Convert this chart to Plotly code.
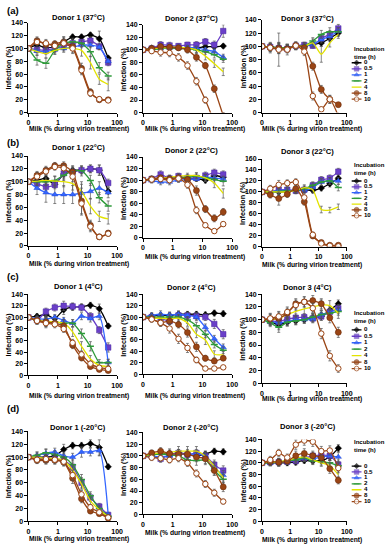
import plotly.graph_objects as go

W, H = 391, 550
FONT = "Liberation Sans"

# ---------------- data ----------------
milk_conc = [0, 0.195, 0.39, 0.78, 1.56, 3.125, 6.25, 12.5, 25, 50]   # % milk during virion treatment
zero_plot_pos = 0.1                                                      # where "0" sits on the log axis
incubation_h = ["0", "0.5", "1", "2", "4", "8", "10"]
x_tick_vals = [0.1, 1, 10, 100]
x_tick_text = ["0", "1", "10", "100"]
panel_letters = ["(a)", "(b)", "(c)", "(d)"]
temps = ["37°C", "22°C", "4°C", "-20°C"]

# Infection (%) ; one list per incubation time (0, 0.5, 1, 2, 4, 8, 10 h)
d1_37 = [[100, 105, 101, 103, 110, 118, 118, 121, 115, 85],
         [100, 98, 97, 100, 103, 108, 110, 112, 103, 78],
         [100, 96, 95, 98, 100, 102, 105, 105, 102, 80],
         [100, 82, 77, 97, 108, 110, 108, 95, 70, 57],
         [100, 95, 92, 97, 100, 100, 97, 78, 52, 44],
         [100, 112, 106, 107, 110, 103, 69, 32, 20, 20],
         [100, 110, 108, 104, 108, 100, 66, 30, 21, 19]]
d2_37 = [[100, 103, 105, 105, 104, 103, 103, 105, 105, 106],
         [100, 102, 108, 107, 106, 108, 108, 113, 108, 130],
         [100, 101, 102, 103, 103, 104, 103, 100, 97, 88],
         [100, 100, 102, 103, 102, 102, 100, 97, 92, 85],
         [100, 102, 103, 104, 104, 103, 100, 90, 78, 65],
         [100, 102, 105, 104, 103, 100, 88, 75, 38, -5],
         [100, 98, 96, 95, 88, 75, 50, 20, -15, -50]]
d3_37 = [[100, 99, 98, 98, 100, 100, 103, 105, 112, 120],
         [100, 99, 97, 96, 101, 102, 101, 112, 118, 127],
         [100, 99, 97, 97, 100, 101, 103, 110, 115, 123],
         [100, 99, 98, 97, 100, 101, 108, 118, 122, 122],
         [100, 98, 97, 97, 100, 100, 105, 88, 105, 118],
         [100, 98, 97, 96, 101, 98, 70, 35, 20, 12],
         [100, 98, 95, 95, 101, 92, 25, 5, 20, -5]]
d1_22 = [[100, 102, 105, 96, 112, 118, 118, 120, 118, 85],
         [100, 97, 92, 95, 113, 115, 118, 120, 118, 98],
         [100, 90, 83, 80, 80, 80, 82, 85, 90, 83],
         [100, 100, 100, 102, 110, 117, 117, 102, 75, 62],
         [100, 101, 102, 101, 100, 97, 85, 62, 46, 42],
         [100, 110, 118, 125, 125, 115, 70, 32, 14, 20],
         [100, 108, 116, 123, 121, 108, 66, 30, 14, 19]]
d2_22 = [[100, 102, 104, 101, 104, 103, 103, 100, 108, 105],
         [100, 102, 110, 103, 107, 104, 104, 108, 113, 110],
         [100, 99, 97, 97, 100, 101, 102, 105, 104, 102],
         [100, 101, 102, 103, 104, 105, 107, 104, 101, 98],
         [100, 102, 104, 105, 107, 108, 108, 104, 95, 77],
         [100, 102, 104, 102, 104, 101, 82, 50, 34, 45],
         [100, 101, 102, 100, 103, 92, 48, 22, 12, 24]]
d3_22 = [[100, 100, 100, 101, 102, 104, 103, 107, 115, 125],
         [100, 100, 104, 104, 102, 104, 112, 122, 125, 137],
         [100, 100, 103, 103, 103, 103, 108, 118, 120, 120],
         [100, 100, 101, 102, 103, 106, 112, 118, 120, 108],
         [100, 100, 100, 100, 103, 108, 104, 68, 67, 73],
         [100, 95, 88, 96, 106, 82, 20, 8, 3, 3],
         [100, 106, 113, 116, 118, 90, 22, 6, 2, 1]]
d1_4 = [[100, 102, 105, 98, 113, 118, 118, 121, 115, 85],
        [100, 95, 110, 117, 120, 119, 117, 102, 78, 48],
        [100, 98, 97, 100, 95, 90, 102, 98, 102, 22],
        [100, 95, 92, 92, 90, 90, 72, 50, 22, 22],
        [100, 95, 93, 92, 90, 75, 50, 28, 17, 15],
        [100, 95, 92, 90, 85, 52, 30, 15, 10, 8],
        [100, 94, 90, 88, 80, 56, 36, 20, 13, 11]]
d2_4 = [[100, 102, 103, 103, 105, 105, 105, 104, 107, 106],
        [100, 100, 98, 93, 103, 103, 102, 100, 88, 70],
        [100, 103, 105, 104, 105, 103, 100, 82, 62, 47],
        [100, 100, 100, 100, 100, 95, 85, 70, 52, 42],
        [100, 98, 98, 97, 98, 90, 70, 60, 35, 34],
        [100, 97, 90, 93, 87, 73, 48, 28, 23, 28],
        [100, 96, 90, 80, 62, 46, 25, 10, 10, 12]]
d3_4 = [[100, 97, 92, 96, 98, 100, 103, 105, 115, 125],
        [100, 98, 97, 101, 103, 104, 102, 105, 112, 118],
        [100, 97, 95, 97, 100, 100, 101, 108, 112, 116],
        [100, 95, 88, 96, 98, 100, 104, 108, 110, 113],
        [100, 100, 102, 108, 113, 117, 120, 123, 122, 110],
        [100, 101, 102, 110, 125, 128, 130, 125, 103, 80],
        [100, 102, 105, 112, 123, 128, 118, 78, 43, 23]]
d1_m20 = [[100, 100, 100, 102, 112, 118, 118, 121, 115, 85],
          [100, 98, 97, 97, 95, 85, 60, 37, 23, 10],
          [100, 103, 106, 108, 102, 100, 108, 108, 110, 10],
          [100, 103, 107, 104, 100, 88, 65, 40, 20, 8],
          [100, 100, 98, 98, 95, 80, 58, 32, 18, 7],
          [100, 95, 95, 95, 92, 67, 35, 16, 12, 5],
          [100, 96, 97, 96, 93, 72, 42, 22, 14, 6]]
d2_m20 = [[100, 102, 104, 103, 105, 103, 100, 103, 108, 107],
          [100, 100, 95, 102, 105, 102, 105, 100, 85, 75],
          [100, 100, 98, 100, 102, 103, 103, 100, 80, 67],
          [100, 102, 103, 102, 100, 93, 92, 93, 75, 60],
          [100, 103, 105, 106, 108, 108, 108, 100, 82, 63],
          [100, 105, 108, 104, 103, 103, 98, 95, 75, 47],
          [100, 97, 96, 93, 96, 88, 70, 52, 37, 22]]
d3_m20 = [[100, 100, 100, 100, 101, 104, 103, 104, 110, 125],
          [100, 101, 101, 102, 103, 108, 112, 113, 112, 97],
          [100, 100, 101, 104, 106, 108, 107, 110, 112, 110],
          [100, 100, 101, 103, 105, 108, 103, 102, 100, 95],
          [100, 101, 102, 104, 108, 110, 105, 100, 95, 80],
          [100, 102, 101, 103, 112, 116, 112, 109, 90, 70],
          [100, 105, 117, 109, 131, 138, 136, 120, 121, 91]]

# error bars (SD, %)
e1_37 = [[0, 4, 5, 4, 8, 4, 4, 4, 12, 3], [0, 4, 4, 5, 5, 5, 4, 6, 5, 5], [0, 3, 4, 4, 4, 4, 4, 4, 4, 4],
         [0, 8, 8, 6, 8, 6, 5, 8, 8, 6], [0, 6, 7, 6, 6, 6, 9, 10, 8, 10], [0, 6, 6, 5, 8, 6, 8, 5, 3, 3],
         [0, 6, 6, 5, 6, 8, 7, 5, 3, 3]]
e2_37 = [[0, 3, 4, 4, 4, 3, 3, 4, 4, 3], [0, 4, 5, 5, 4, 4, 5, 5, 6, 10], [0, 3, 3, 4, 3, 3, 3, 4, 4, 5],
         [0, 3, 4, 4, 3, 4, 4, 4, 5, 5], [0, 4, 4, 4, 4, 4, 5, 6, 6, 6], [0, 4, 5, 5, 4, 5, 6, 5, 6, 5],
         [0, 4, 6, 6, 6, 6, 6, 5, 5, 5]]
e3_37 = [[0, 4, 6, 5, 5, 4, 4, 5, 5, 5], [0, 5, 6, 5, 5, 4, 4, 5, 6, 6], [0, 5, 6, 5, 4, 4, 4, 5, 5, 5],
         [0, 6, 8, 6, 5, 5, 5, 6, 6, 6], [0, 6, 8, 6, 5, 5, 6, 12, 6, 6], [0, 6, 8, 6, 5, 5, 6, 6, 6, 3],
         [0, 8, 25, 8, 6, 6, 6, 3, 6, 3]]
e1_22 = [[0, 5, 6, 5, 8, 5, 5, 6, 8, 4], [0, 6, 6, 6, 7, 6, 6, 6, 8, 6], [0, 10, 15, 14, 14, 14, 14, 12, 10, 8],
         [0, 6, 6, 6, 8, 8, 8, 8, 8, 8], [0, 6, 8, 8, 8, 10, 15, 12, 8, 8], [0, 6, 6, 5, 6, 8, 20, 8, 4, 4],
         [0, 6, 6, 5, 6, 8, 18, 8, 4, 4]]
e2_22 = [[0, 4, 5, 5, 4, 4, 5, 5, 5, 5], [0, 5, 6, 5, 5, 5, 5, 6, 6, 6], [0, 4, 5, 5, 4, 4, 4, 5, 5, 5],
         [0, 4, 4, 4, 4, 4, 5, 6, 6, 8], [0, 4, 4, 4, 4, 4, 5, 6, 8, 8], [0, 4, 5, 5, 5, 6, 8, 6, 6, 6],
         [0, 4, 5, 5, 5, 6, 6, 4, 3, 4]]
e3_22 = [[0, 5, 6, 5, 5, 4, 4, 5, 6, 6], [0, 5, 6, 5, 5, 5, 6, 6, 6, 6], [0, 5, 6, 5, 5, 5, 6, 6, 6, 6],
         [0, 5, 6, 5, 5, 5, 6, 6, 6, 6], [0, 5, 6, 5, 5, 5, 6, 6, 5, 5], [0, 6, 12, 6, 6, 6, 5, 3, 2, 2],
         [0, 6, 8, 6, 6, 8, 5, 3, 2, 2]]
e1_4 = [[0, 4, 6, 5, 8, 6, 5, 5, 8, 4], [0, 6, 6, 6, 8, 6, 6, 6, 6, 8], [0, 6, 6, 5, 5, 6, 6, 6, 6, 6],
        [0, 6, 8, 6, 6, 6, 8, 8, 5, 5], [0, 6, 8, 6, 6, 8, 8, 6, 5, 5], [0, 6, 8, 6, 6, 6, 5, 4, 3, 3],
        [0, 6, 8, 6, 6, 6, 5, 4, 3, 3]]
e2_4 = [[0, 4, 5, 5, 6, 5, 5, 5, 5, 5], [0, 5, 6, 6, 6, 6, 6, 6, 8, 8], [0, 5, 6, 5, 5, 5, 6, 6, 6, 6],
        [0, 5, 6, 5, 5, 6, 6, 6, 6, 6], [0, 5, 6, 5, 6, 6, 6, 8, 6, 6], [0, 5, 6, 6, 6, 8, 8, 5, 4, 4],
        [0, 5, 6, 8, 8, 8, 5, 3, 3, 3]]
e3_4 = [[0, 6, 8, 6, 6, 5, 6, 6, 6, 6], [0, 6, 8, 6, 6, 5, 6, 6, 6, 6], [0, 6, 8, 6, 6, 5, 6, 6, 6, 6],
        [0, 6, 8, 6, 6, 6, 6, 6, 6, 6], [0, 8, 10, 8, 8, 8, 8, 8, 8, 8], [0, 8, 8, 8, 8, 8, 8, 8, 8, 8],
        [0, 8, 8, 8, 8, 8, 8, 8, 8, 6]]
e1_m20 = [[0, 4, 6, 5, 8, 5, 5, 6, 12, 4], [0, 5, 6, 5, 6, 6, 8, 6, 5, 4], [0, 5, 6, 6, 6, 6, 8, 6, 8, 4],
          [0, 5, 6, 6, 6, 8, 8, 6, 5, 3], [0, 5, 6, 6, 6, 8, 8, 6, 5, 3], [0, 5, 6, 6, 6, 8, 6, 4, 3, 3],
          [0, 5, 6, 6, 6, 8, 6, 4, 3, 3]]
e2_m20 = [[0, 4, 5, 5, 5, 5, 5, 5, 5, 5], [0, 5, 6, 5, 6, 6, 6, 6, 8, 8], [0, 5, 6, 5, 6, 6, 6, 6, 8, 8],
          [0, 5, 6, 6, 6, 8, 8, 8, 8, 8], [0, 5, 6, 6, 8, 8, 8, 8, 8, 8], [0, 5, 6, 6, 8, 8, 8, 8, 8, 8],
          [0, 5, 5, 5, 6, 6, 6, 6, 6, 4]]
e3_m20 = [[0, 5, 6, 5, 5, 5, 5, 5, 6, 6], [0, 5, 6, 5, 5, 5, 6, 6, 8, 8], [0, 5, 6, 5, 5, 6, 6, 6, 8, 8],
          [0, 5, 6, 5, 5, 6, 6, 6, 6, 6], [0, 5, 6, 5, 5, 6, 6, 6, 6, 6], [0, 6, 6, 6, 8, 8, 8, 8, 8, 6],
          [0, 6, 6, 6, 8, 8, 8, 8, 8, 8]]

panel_data = [[(d1_37, e1_37), (d2_37, e2_37), (d3_37, e3_37)],
              [(d1_22, e1_22), (d2_22, e2_22), (d3_22, e3_22)],
              [(d1_4, e1_4), (d2_4, e2_4), (d3_4, e3_4)],
              [(d1_m20, e1_m20), (d2_m20, e2_m20), (d3_m20, e3_m20)]]
y_max = [[140, 140, 140], [140, 140, 160], [140, 140, 140], [140, 140, 140]]

# ---------------- styles ----------------
colors = ["#000000", "#6A3FC9", "#3366FF", "#2E9A3A", "#E3E300", "#9A4515", "#9A4515"]
symbols = ["diamond", "square", "triangle-up", "line-ew", None, "circle", "circle"]
msizes = [5, 5.5, 5.5, 5, 0, 6, 5.5]
mfill = ["#000000", "#6A3FC9", "#3366FF", "#2E9A3A", "#E3E300", "#9A4515", "#FFFFFF"]
mline = ["#000000", "#4A2A9A", "#2244CC", "#2E9A3A", "#E3E300", "#6A2A08", "#9A4515"]
mlw = [0.5, 0.5, 0.5, 1.5, 0, 0.6, 1.0]

# pixel layout
col_x = [(27, 117.5), (144, 235), (265.5, 352)]
plot_y = {(0, 0): (19, 110), (0, 1): (21, 110), (0, 2): (16, 110),
          (1, 0): (154, 245), (1, 1): (155, 237), (1, 2): (157, 246),
          (2, 0): (294, 376), (2, 1): (294, 375), (2, 2): (294, 384),
          (3, 0): (433, 524), (3, 1): (434, 517), (3, 2): (441, 524)}
title_y = {(0, 0): 14, (0, 1): 15, (0, 2): 15, (1, 0): 145, (1, 1): 148, (1, 2): 149,
           (2, 0): 286, (2, 1): 287, (2, 2): 287, (3, 0): 429, (3, 1): 429, (3, 2): 428}
xtitle_y = {(0, 0): 127, (0, 1): 127, (0, 2): 127, (1, 0): 263, (1, 1): 256, (1, 2): 264,
            (2, 0): 397, (2, 1): 397, (2, 2): 400, (3, 0): 542, (3, 1): 536, (3, 2): 543}
title_cx = [78, 193, 312]
xtitle_cx = [79, 197, 316]
ytitle_x = [7, 124, 246]
letter_y = [7, 140, 276, 410]
# legend geometry per row: y of centre of the 2-line title, y of first entry, spacing
leg_geo = [(50, 59.5, 6.15), (167, 179.3, 5.85), (317, 330, 6.55), (448, 468, 6.0)]

xs = [zero_plot_pos if c == 0 else c for c in milk_conc]

fig = go.Figure()
layout = dict(width=W, height=H, margin=dict(l=0, r=0, t=0, b=0),
              paper_bgcolor="white", plot_bgcolor="white", showlegend=False,
              font=dict(family=FONT, size=7, color="black"))
annotations = []


def px_x(p):
    return p / W


def px_y(p):
    return 1 - p / H


n = 0
for r in range(4):
    for c in range(3):
        n += 1
        sfx = "" if n == 1 else str(n)
        x0, x1 = col_x[c]
        t, b = plot_y[(r, c)]
        layout["xaxis" + sfx] = dict(domain=[px_x(x0), px_x(x1)], anchor="y" + sfx, type="log",
                                     range=[-1, 2], tickvals=x_tick_vals, ticktext=x_tick_text,
                                     showline=True, linecolor="black", linewidth=1, ticks="outside",
                                     ticklen=3, tickwidth=1, tickcolor="black", showgrid=False,
                                     zeroline=False, tickfont=dict(size=7, weight="bold"))
        layout["yaxis" + sfx] = dict(domain=[px_y(b), px_y(t)], anchor="x" + sfx,
                                     range=[0, y_max[r][c]], tick0=0, dtick=20,
                                     showline=True, linecolor="black", linewidth=1, ticks="outside",
                                     ticklen=3, tickwidth=1, tickcolor="black", showgrid=False,
                                     zeroline=False, tickfont=dict(size=7, weight="bold"))
        vals_all, errs_all = panel_data[r][c]
        for k in range(7):
            has_m = symbols[k] is not None
            fig.add_trace(go.Scatter(
                x=xs, y=vals_all[k], xaxis="x" + sfx, yaxis="y" + sfx,
                mode="lines+markers" if has_m else "lines",
                line=dict(color=colors[k], width=1.3, shape="spline", smoothing=0.6),
                marker=dict(symbol=symbols[k] or "circle", size=msizes[k], color=mfill[k],
                            line=dict(color=mline[k], width=mlw[k])),
                error_y=dict(type="data", array=errs_all[k], color="#555555", thickness=0.7, width=1.5),
                hoverinfo="skip", showlegend=False))
        annotations.append(dict(text=f"<b>Donor {c + 1} ({temps[r]})</b>", x=px_x(title_cx[c]),
                                y=px_y(title_y[(r, c)]), xref="paper", yref="paper", showarrow=False,
                                xanchor="center", yanchor="middle", font=dict(size=7.6)))
        annotations.append(dict(text="<b>Milk (% during virion treatment)</b>", x=px_x(xtitle_cx[c]),
                                y=px_y(xtitle_y[(r, c)]), xref="paper", yref="paper", showarrow=False,
                                xanchor="center", yanchor="middle", font=dict(size=6.7)))
        annotations.append(dict(text="<b>Infection (%)</b>", x=px_x(ytitle_x[c]),
                                y=px_y((t + b) / 2), xref="paper", yref="paper", showarrow=False,
                                xanchor="center", yanchor="middle", textangle=-90, font=dict(size=7.2)))
    annotations.append(dict(text=f"<b>{panel_letters[r]}</b>", x=px_x(3), y=px_y(letter_y[r]),
                            xref="paper", yref="paper", showarrow=False, xanchor="left",
                            yanchor="middle", font=dict(size=9.5)))

# legends (one per row) drawn in their own small axes
for r in range(4):
    n += 1
    sfx = str(n)
    ty, p0, s = leg_geo[r]
    top_px, bot_px = p0 - 3.5 * s, p0 + 7 * s
    layout["xaxis" + sfx] = dict(domain=[px_x(355), px_x(391)], anchor="y" + sfx, range=[0, 3.6],
                                 visible=False, fixedrange=True)
    layout["yaxis" + sfx] = dict(domain=[px_y(bot_px), px_y(top_px)], anchor="x" + sfx,
                                 range=[(bot_px - p0) / s, (top_px - p0) / s], visible=False, fixedrange=True)
    for k in range(7):
        has_m = symbols[k] is not None
        fig.add_trace(go.Scatter(
            x=[0.2, 0.7, 1.2], y=[k, k, k], xaxis="x" + sfx, yaxis="y" + sfx,
            mode="lines+markers" if has_m else "lines",
            line=dict(color=colors[k], width=1.3),
            marker=dict(symbol=symbols[k] or "circle", size=[0, msizes[k] * 0.85, 0], color=mfill[k],
                        line=dict(color=mline[k], width=mlw[k])),
            hoverinfo="skip", showlegend=False, cliponaxis=False))
    fig.add_trace(go.Scatter(x=[1.45] * 7, y=list(range(7)), text=incubation_h, mode="text",
                             textposition="middle right", textfont=dict(size=6.2, weight="bold"),
                             xaxis="x" + sfx, yaxis="y" + sfx, hoverinfo="skip", showlegend=False,
                             cliponaxis=False))
    annotations.append(dict(text="<b>Incubation<br>time (h)</b>", x=px_x(357), y=px_y(ty),
                            xref="paper", yref="paper", showarrow=False, xanchor="left",
                            yanchor="middle", align="left", font=dict(size=6.0)))

layout["annotations"] = annotations
fig.update_layout(**layout)
fig.write_html("out.html", config={"displayModeBar": False},
               post_script="document.body.style.margin='0px';document.body.style.padding='0px';")
